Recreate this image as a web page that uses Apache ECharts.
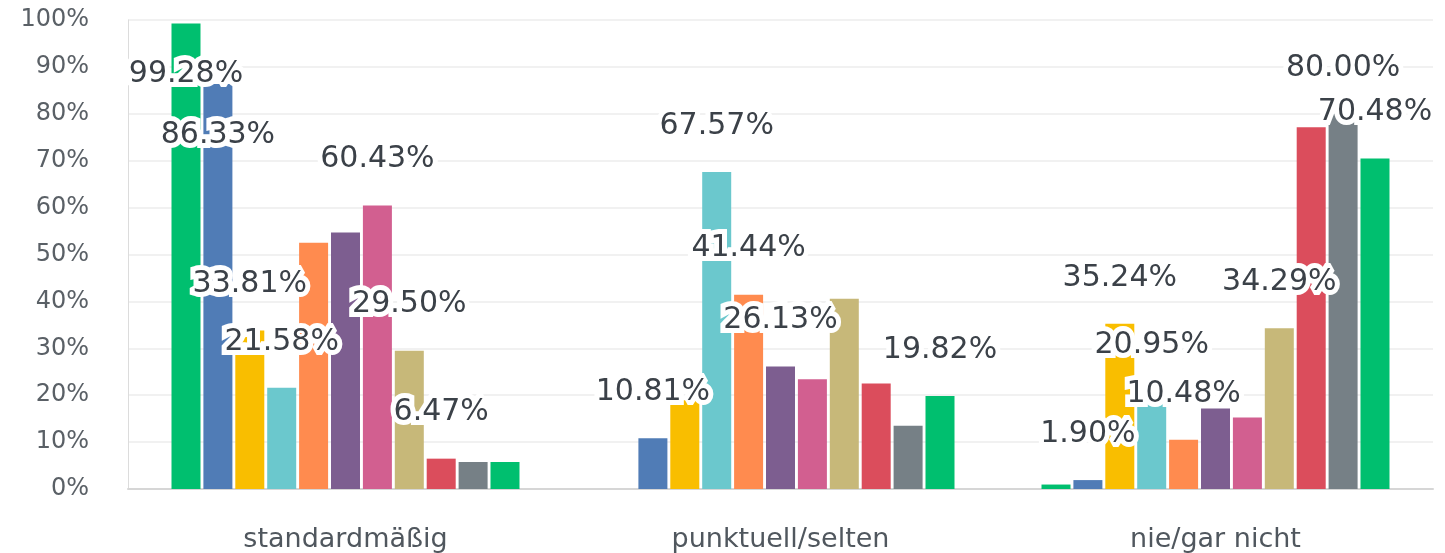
<!DOCTYPE html>
<html>
<head>
<meta charset="utf-8">
<script src="https://cdn.jsdelivr.net/npm/echarts@6/dist/echarts.min.js"></script>
<style>
  html, body { margin: 0; padding: 0; background: #fff; }
  #chart { width: 1445px; height: 553px; }
</style>
</head>
<body>
<div id="chart"></div>
<script>
// Kategorien (x-Achse)
const categories = ['standardmäßig', 'punktuell/selten', 'nie/gar nicht']

// Werte je Reihe in Prozent (standardmäßig, punktuell/selten, nie/gar nicht)
const reihe1 = [99.28, 0, 0.95]
const reihe2 = [86.33, 10.81, 1.90]
const reihe3 = [33.81, 18.92, 35.24]
const reihe4 = [21.58, 67.57, 20.95]
const reihe5 = [52.52, 41.44, 10.48]
const reihe6 = [54.68, 26.13, 17.14]
const reihe7 = [60.43, 23.42, 15.24]
const reihe8 = [29.50, 40.54, 34.29]
const reihe9 = [6.47, 22.52, 77.14]
const reihe10 = [5.76, 13.51, 80.00]
const reihe11 = [5.76, 19.82, 70.48]

// welche Balken eine Beschriftung zeigen (1 = ja)
const label1 = [1, 0, 0]
const label2 = [1, 1, 1]
const label3 = [1, 0, 1]
const label4 = [1, 1, 1]
const label5 = [0, 1, 1]
const label6 = [0, 1, 0]
const label7 = [1, 0, 0]
const label8 = [1, 0, 1]
const label9 = [1, 0, 0]
const label10 = [0, 0, 1]
const label11 = [0, 1, 1]

// y-Achse
const yTicks = [0, 10, 20, 30, 40, 50, 60, 70, 80, 90, 100]

const allValues = [reihe1, reihe2, reihe3, reihe4, reihe5, reihe6, reihe7, reihe8, reihe9, reihe10, reihe11]
const allLabels = [label1, label2, label3, label4, label5, label6, label7, label8, label9, label10, label11]
const colors = ['#00BF6F', '#507CB6', '#F9BE00', '#6BC8CD', '#FF8B4F', '#7D5E90',
  '#D25F90', '#C7B879', '#DB4D5C', '#768086', '#00BF6F']

const labelFont = {
  fontFamily: 'DejaVu Sans',
  fontSize: 30,
  color: '#3b4148',
  textBorderColor: '#fff',
  textBorderWidth: 10,
  formatter: (p) => p.value.toFixed(2) + '%'
}

const chartInstance = echarts.init(document.getElementById('chart'))

const series = allValues.map((vals, i) => {
  return {
    name: 'Reihe ' + (i + 1),
    type: 'bar',
    barGap: '10%',
    barCategoryGap: '20%',
    itemStyle: { color: colors[i] },
    data: vals.map((v, j) => {
      const show = allLabels[i][j] === 1
      // sehr hohe Balken: Beschriftung innen
      const inside = v > 85
      return {
        value: v,
        label: {
          show: show,
          position: inside ? 'insideTop' : 'top',
          distance: inside ? 36 : 31,
          ...labelFont
        }
      }
    })
  }
})

const option = {
  animation: false,
  grid: { left: 128, right: 12, top: 20, bottom: 64, outerBoundsMode: 'none' },
  xAxis: {
    type: 'category',
    data: categories,
    axisLine: { lineStyle: { color: '#d6d6d6', width: 2 } },
    axisTick: { show: false },
    axisLabel: {
      margin: 37,
      fontFamily: 'DejaVu Sans',
      fontSize: 27,
      color: '#50575e'
    }
  },
  yAxis: {
    type: 'value',
    min: yTicks[0],
    max: yTicks[yTicks.length - 1],
    interval: yTicks[1] - yTicks[0],
    axisLine: { show: true, lineStyle: { color: '#dcdcdc', width: 1 } },
    axisTick: { show: false },
    splitLine: { lineStyle: { color: '#ececec', width: 1.5 } },
    axisLabel: {
      margin: 39,
      fontFamily: 'DejaVu Sans',
      fontSize: 24,
      color: '#5a6066',
      padding: [8, 0, 0, 0],
      formatter: '{value}%'
    }
  },
  series: series
}

chartInstance.setOption(option)
</script>
</body>
</html>
